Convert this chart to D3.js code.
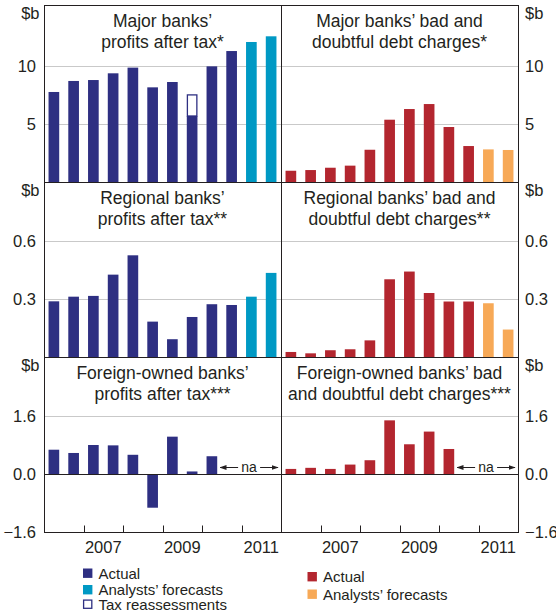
<!DOCTYPE html>
<html>
<head>
<meta charset="utf-8">
<script src="https://cdn.jsdelivr.net/npm/d3@7"></script>
<style>
  html, body { margin: 0; padding: 0; background: #fff; }
  svg { display: block; font-family: 'Liberation Sans', Arial, sans-serif; }
</style>
</head>
<body>
<div id="chart"></div>
<script>
// half-year periods, 2006 H1 .. 2011 H2
const periods = ['2006H1','2006H2','2007H1','2007H2','2008H1','2008H2','2009H1','2009H2','2010H1','2010H2','2011H1','2011H2'];
const yearLabels = [{ label: '2007', from: 2 }, { label: '2009', from: 6 }, { label: '2011', from: 10 }];

// $b values
const majorProfitsActual   = [7.76, 8.71, 8.79, 9.37, 9.86, 8.16, 8.62, 5.69, 9.97, 11.29, null, null];
const majorProfitsTax      = [null, null, null, null, null, null, null, 7.56, null, null, null, null];
const majorProfitsForecast = [null, null, null, null, null, null, null, null, null, null, 12.07, 12.56];
const majorBadActual       = [0.97, 1.03, 1.23, 1.41, 2.78, 5.37, 6.29, 6.72, 4.74, 3.10, null, null];
const majorBadForecast     = [null, null, null, null, null, null, null, null, null, null, 2.81, 2.76];

const regionalProfitsActual   = [0.288, 0.312, 0.316, 0.426, 0.526, 0.183, 0.092, 0.207, 0.273, 0.269, null, null];
const regionalProfitsForecast = [null, null, null, null, null, null, null, null, null, null, 0.312, 0.435];
const regionalBadActual       = [0.026, 0.019, 0.035, 0.040, 0.086, 0.402, 0.442, 0.331, 0.287, 0.287, null, null];
const regionalBadForecast     = [null, null, null, null, null, null, null, null, null, null, 0.278, 0.142];

const foreignProfitsActual = [0.67, 0.58, 0.80, 0.79, 0.53, -0.93, 1.03, 0.07, 0.49, null, null, null];
const foreignBadActual     = [0.14, 0.17, 0.14, 0.26, 0.38, 1.48, 0.82, 1.17, 0.69, null, null, null];

const majorDomain = [0, 15],      majorTicks = [5, 10];
const regionalDomain = [0, 0.9],  regionalTicks = [0.3, 0.6];
const foreignDomain = [-1.6, 3.2], foreignTicks = [-1.6, 0, 1.6];

const NAVY = '#2e2f82', TEAL = '#0099c4', RED = '#b3262f', ORANGE = '#f7a957';
const INK = '#231f20', GRID = '#c9c9c9';

const W = 556, H = 611;
const svg = d3.select('#chart').append('svg').attr('width', W).attr('height', H);

const cols = [[44, 281], [281, 518]];
const rows = [
  { top: 5,   bottom: 182, domain: majorDomain,    ticks: majorTicks,    fmt: d3.format('d') },
  { top: 182, bottom: 357, domain: regionalDomain, ticks: regionalTicks, fmt: d3.format('.1f') },
  { top: 357, bottom: 532, domain: foreignDomain,  ticks: foreignTicks,  fmt: d3.format('.1f') }
];
rows.forEach(r => {
  r.y = d3.scaleLinear().domain(r.domain).range([r.bottom, r.bottom - 174]);
});

const xs = cols.map(c => d3.scaleBand().domain(d3.range(periods.length)).range(c)
  .paddingInner(0.46).paddingOuter(0.23));

const panels = [
  { row: 0, col: 0, title: ['Major banks’', 'profits after tax*'],
    series: [{ v: majorProfitsActual, c: NAVY }, { v: majorProfitsForecast, c: TEAL }], tax: majorProfitsTax },
  { row: 0, col: 1, title: ['Major banks’ bad and', 'doubtful debt charges*'],
    series: [{ v: majorBadActual, c: RED }, { v: majorBadForecast, c: ORANGE }] },
  { row: 1, col: 0, title: ['Regional banks’', 'profits after tax**'],
    series: [{ v: regionalProfitsActual, c: NAVY }, { v: regionalProfitsForecast, c: TEAL }] },
  { row: 1, col: 1, title: ['Regional banks’ bad and', 'doubtful debt charges**'],
    series: [{ v: regionalBadActual, c: RED }, { v: regionalBadForecast, c: ORANGE }] },
  { row: 2, col: 0, title: ['Foreign-owned banks’', 'profits after tax***'],
    series: [{ v: foreignProfitsActual, c: NAVY }], na: 9 },
  { row: 2, col: 1, title: ['Foreign-owned banks’ bad', 'and doubtful debt charges***'],
    series: [{ v: foreignBadActual, c: RED }], na: 9 }
];

const defs = svg.append('defs');
defs.append('marker').attr('id', 'arrow').attr('viewBox', '0 0 10 10')
  .attr('refX', 9).attr('refY', 5).attr('markerWidth', 7).attr('markerHeight', 7)
  .attr('orient', 'auto-start-reverse').attr('markerUnits', 'userSpaceOnUse')
  .append('path').attr('d', 'M0,1.5 L10,5 L0,8.5 Z').attr('fill', INK);

panels.forEach(p => {
  const r = rows[p.row];
  const x = xs[p.col];
  const [x0, x1] = cols[p.col];
  const g = svg.append('g');

  // gridlines
  g.selectAll('line.grid').data(r.ticks.filter(t => t !== 0 && t !== r.domain[0]))
    .enter().append('line')
    .attr('x1', x0).attr('x2', x1)
    .attr('y1', d => Math.round(r.y(d)) + 0.5).attr('y2', d => Math.round(r.y(d)) + 0.5)
    .attr('stroke', GRID).attr('stroke-width', 1);

  // bars
  p.series.forEach(s => {
    g.selectAll(null).data(s.v.map((v, i) => ({ v, i })).filter(d => d.v !== null))
      .enter().append('rect')
      .attr('x', d => x(d.i))
      .attr('width', x.bandwidth())
      .attr('y', d => r.y(Math.max(0, d.v)))
      .attr('height', d => Math.abs(r.y(d.v) - r.y(0)))
      .attr('fill', s.c);
  });

  // tax reassessment boxes sit on top of the actual bar
  if (p.tax) {
    const base = p.series[0].v;
    g.selectAll(null).data(p.tax.map((v, i) => ({ v, i })).filter(d => d.v !== null))
      .enter().append('rect')
      .attr('x', d => x(d.i) + 0.6)
      .attr('width', x.bandwidth() - 1.2)
      .attr('y', d => r.y(d.v) + 0.6)
      .attr('height', d => r.y(base[d.i]) - r.y(d.v) - 0.6)
      .attr('fill', '#fff').attr('stroke', NAVY).attr('stroke-width', 1.3);
  }

  // zero line for rows with negatives
  if (r.domain[0] < 0) {
    g.append('line').attr('x1', x0).attr('x2', x1)
      .attr('y1', Math.round(r.y(0)) + 0.5).attr('y2', Math.round(r.y(0)) + 0.5)
      .attr('stroke', INK).attr('stroke-width', 1);
  }

  // na annotation
  if (p.na !== undefined) {
    const ay = r.y(0) - 6.5;
    const ax0 = x(p.na - 1) + x.bandwidth() + 3;
    const ax1 = x1 - 3;
    const mid = (ax0 + ax1) / 2;
    g.append('line').attr('x1', mid - 11).attr('x2', ax0).attr('y1', ay).attr('y2', ay)
      .attr('stroke', INK).attr('stroke-width', 1).attr('marker-end', 'url(#arrow)');
    g.append('line').attr('x1', mid + 11).attr('x2', ax1).attr('y1', ay).attr('y2', ay)
      .attr('stroke', INK).attr('stroke-width', 1).attr('marker-end', 'url(#arrow)');
    g.append('text').attr('x', mid).attr('y', ay).attr('dy', '0.33em')
      .attr('text-anchor', 'middle').attr('font-size', 14).attr('fill', INK).text('na');
  }

  // x ticks on bottom row
  if (p.row === 2) {
    const step = x.step();
    g.selectAll(null).data([2, 4, 6, 8, 10]).enter().append('line')
      .attr('x1', d => Math.round(x0 + d * step) + 0.5).attr('x2', d => Math.round(x0 + d * step) + 0.5)
      .attr('y1', r.bottom).attr('y2', r.bottom - 6.5)
      .attr('stroke', INK).attr('stroke-width', 1);
    g.selectAll(null).data(yearLabels).enter().append('text')
      .attr('x', d => x0 + (d.from + 1) * step)
      .attr('y', 553)
      .attr('text-anchor', 'middle').attr('font-size', 16.5).attr('fill', INK)
      .text(d => d.label);
  }

  // panel frame
  g.append('rect').attr('x', x0 + 0.5).attr('y', r.top + 0.5)
    .attr('width', x1 - x0).attr('height', r.bottom - r.top)
    .attr('fill', 'none').attr('stroke', INK).attr('stroke-width', 1);

  // title
  g.append('text').attr('text-anchor', 'middle').attr('font-size', 17.5).attr('fill', INK)
    .selectAll('tspan').data(p.title).enter().append('tspan')
    .attr('x', (x0 + x1) / 2)
    .attr('y', (d, i) => r.top + 22 + i * 20.5)
    .text(d => d);

  // y axis labels (left for left column, right for right column)
  const left = p.col === 0;
  const lx = left ? 36 : 525;
  g.selectAll(null).data(r.ticks).enter().append('text')
    .attr('x', lx).attr('y', d => r.y(d)).attr('dy', '0.35em')
    .attr('text-anchor', left ? 'end' : 'start')
    .attr('font-size', 16.5).attr('fill', INK)
    .text(d => r.fmt(d));
  g.append('text').attr('x', left ? 39.5 : 525).attr('y', r.top + 14)
    .attr('text-anchor', left ? 'end' : 'start')
    .attr('font-size', 16.5).attr('fill', INK).text('$b');
});

// legends
const legendLeft = [
  { label: 'Actual', fill: NAVY, y: 568.5 },
  { label: 'Analysts’ forecasts', fill: TEAL, y: 585 },
  { label: 'Tax reassessments', fill: '#fff', stroke: NAVY, y: 599.5 }
];
const legendRight = [
  { label: 'Actual', fill: RED, y: 572 },
  { label: 'Analysts’ forecasts', fill: ORANGE, y: 589.5 }
];
[[legendLeft, 83, 98.5], [legendRight, 307.5, 323]].forEach(([items, sx, tx]) => {
  const lg = svg.append('g');
  items.forEach(d => {
    lg.append('rect').attr('x', sx + (d.stroke ? 0.6 : 0)).attr('y', d.y + (d.stroke ? 0.6 : 0))
      .attr('width', d.stroke ? 8.2 : 9.4).attr('height', d.stroke ? 8.2 : 9.4)
      .attr('fill', d.fill).attr('stroke', d.stroke || 'none').attr('stroke-width', 1.3);
    lg.append('text').attr('x', tx).attr('y', d.y + 10.3)
      .attr('font-size', 15).attr('fill', INK).text(d.label);
  });
});
</script>
</body>
</html>
